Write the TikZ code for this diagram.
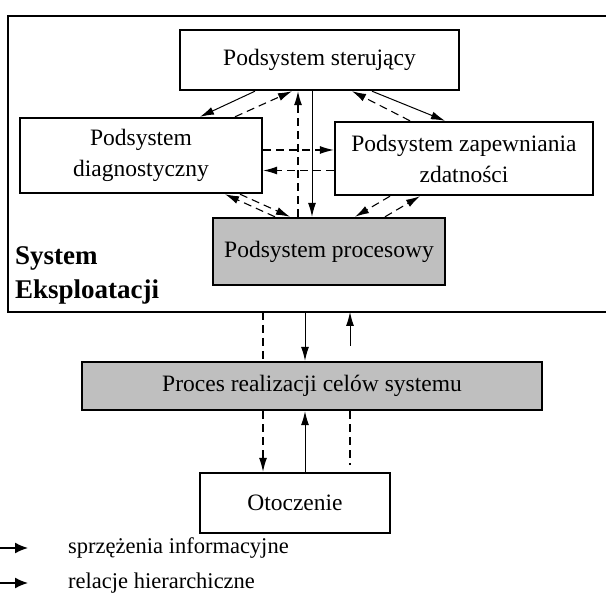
\documentclass[tikz,border=0pt]{standalone}
\usepackage{fontspec}
\setmainfont{Liberation Serif}
\usetikzlibrary{arrows.meta,calc}
\begin{document}
\begin{tikzpicture}[x=1pt,y=-1pt,
  box/.style={draw,line width=2.4pt,inner sep=0pt,align=center,font=\fontsize{23.5}{31}\selectfont},
  shaded/.style={box,fill=gray!50},
  tip/.style={-{Latex[length=14pt,width=8pt]}},
  hier/.style={tip,line width=1pt},
  info/.style={tip,line width=1.1pt,dash pattern=on 8pt off 5pt},
  infoline/.style={line width=1.3pt,dash pattern=on 8pt off 5pt},
  sys/.style={font=\fontsize{27}{33}\selectfont\bfseries,anchor=west,inner sep=0pt},
  legend/.style={font=\fontsize{22.5}{26}\selectfont,anchor=west,inner sep=0pt}]
\useasboundingbox (0,0) rectangle (606,604);
% outer frame of the operating system
\draw[line width=2.8pt] (620,16) -- (8,16) -- (8,312) -- (620,312);
\node[sys] (sysA) at (15,258) {System};
\node[sys] (sysB) at (15,292) {Eksploatacji};
% subsystems
\node[box,minimum width=279,minimum height=60] (ster) at (319.5,60) {Podsystem sterujący};
\node[box,minimum width=242,minimum height=75] (diag) at (141,155.5) {Podsystem\\diagnostyczny};
\node[box,minimum width=258,minimum height=73] (zap) at (464,158.5) {Podsystem zapewniania\\zdatności};
\node[shaded,minimum width=232,minimum height=67] (proc) at (329,251.5) {Podsystem procesowy};
\node[shaded,minimum width=460,minimum height=48] (real) at (312,386) {Proces realizacji celów systemu};
\node[box,minimum width=190,minimum height=60] (oto) at (295,503) {Otoczenie};
% connections inside the frame
\draw[hier] ([xshift=-64.5pt]ster.south) -- ([xshift=59pt]diag.north);
\draw[info] ([xshift=94pt]diag.north) -- ([xshift=-27.5pt]ster.south);
\draw[info] ([xshift=-31pt]proc.north) -- ([xshift=-21.5pt]ster.south);
\draw[hier] ([xshift=-7.5pt]ster.south) -- ([xshift=-17pt]proc.north);
\draw[hier] ([xshift=52.5pt]ster.south) -- ([xshift=-19pt]zap.north);
\draw[info] ([xshift=-54pt]zap.north) -- ([xshift=32.5pt]ster.south);
\draw[info] ([yshift=5.5pt]diag.east) -- ([yshift=5.5pt]diag.east -| zap.west);
\draw[info] ([yshift=-12pt]zap.west) -- ([yshift=-12pt]zap.west -| diag.east);
\draw[info] ([xshift=-54pt]proc.north) -- ([xshift=84pt]diag.south);
\draw[info] ([xshift=99pt]diag.south) -- ([xshift=-39pt]proc.north);
\draw[info] ([xshift=-74pt]zap.south) -- ([xshift=26pt]proc.north);
\draw[info] ([xshift=56pt]proc.north) -- ([xshift=-44pt]zap.south);
% connections to the goal process and the surroundings
\coordinate (fb) at (0,312);
\draw[infoline] (fb -| 263,0) -- (real.north -| 263,0);
\draw[hier] (fb -| 305,0) -- (real.north -| 305,0);
\coordinate (upfrom) at (350,346);
\draw[hier] (upfrom) -- (fb -| upfrom);
\draw[info] (real.south -| 263,0) -- (oto.north -| 263,0);
\draw[hier] (oto.north -| 305,0) -- (real.south -| 305,0);
\coordinate (dashend) at (350,465);
\draw[infoline] (real.south -| dashend) -- (dashend);
% legend
\coordinate (l1) at (0,548);
\coordinate (l2) at (0,583);
\node[legend] (t1) at (68,548) {sprzężenia informacyjne};
\node[legend] (t2) at (68,583) {relacje hierarchiczne};
\draw[-{Latex[length=13pt,width=11pt]},line width=1.6pt] (l1) -- ([xshift=28pt]l1);
\draw[-{Latex[length=13pt,width=11pt]},line width=1.6pt] (l2) -- ([xshift=28pt]l2);
\end{tikzpicture}
\end{document}
